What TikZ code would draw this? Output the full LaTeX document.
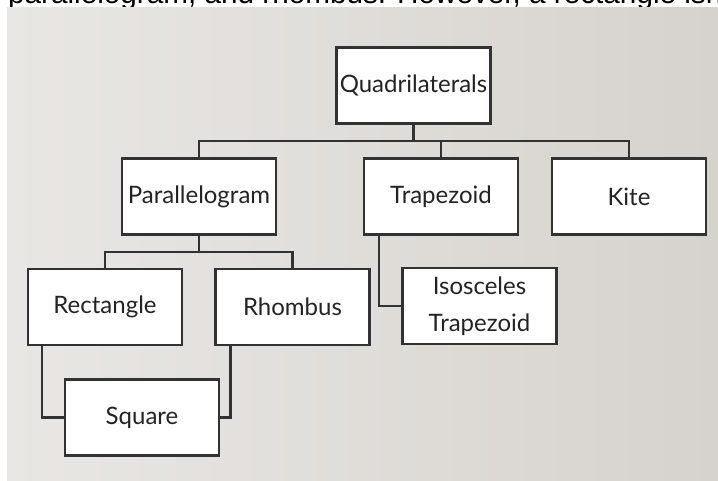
\documentclass[tikz,border=0pt]{standalone}
\usepackage{fontspec}
\setmainfont{Lato}
\newfontfamily\captionfont{Liberation Sans}
\usetikzlibrary{positioning, calc}
\definecolor{bgleft}{RGB}{233,231,228}
\definecolor{bgright}{RGB}{214,211,206}
\definecolor{linegray}{RGB}{50,50,50}
\definecolor{textgray}{RGB}{35,35,35}

\begin{document}
\begin{tikzpicture}[x=1pt, y=-1pt,
    quadbox/.style={draw=linegray, line width=2.2pt, fill=white, minimum width=154pt,
        minimum height=76pt, inner sep=0pt, text=textgray, align=center,
        font=\fontsize{24}{37}\selectfont},
    link/.style={draw=linegray, line width=2.2pt}]
        \useasboundingbox (0,0) rectangle (718,481);
        \clip (0,0) rectangle (718,481);

        % cut-off line of text above the slide
        \node[anchor=base west, inner sep=0pt, font=\captionfont\fontsize{29.7}{34}\selectfont]
            (caption) at (8,4) {parallelogram, and rhombus. However, a rectangle isn't};
        \fill[left color=bgleft, right color=bgright] (7,8) rectangle (718,481);

        \node[quadbox] (quad) at (413.5,85.5) {Quadrilaterals};
        \node[quadbox] (para) at (199,196.5) {Parallelogram};
        \node[quadbox] (trap) at (441,196.5) {Trapezoid};
        \node[quadbox] (kite) at (629,196.5) {Kite};
        \node[quadbox] (rect) at (105,307) {Rectangle};
        \node[quadbox] (rhom) at (292.5,307) {Rhombus};
        \node[quadbox] (iso) at (479.5,306) {Isosceles\\Trapezoid};
        \node[quadbox] (sq) at (142,417.5) {Square};

        \coordinate (topbus) at (0,141);
        \coordinate (parabus) at (0,252);

        \draw[link] (quad.south) -- (quad.south |- topbus);
        \draw[link] (para.north) -- (para.north |- topbus) -- (kite.north |- topbus) -- (kite.north);
        \draw[link] (trap.north) -- (trap.north |- topbus);
        \draw[link] (para.south) -- (para.south |- parabus);
        \draw[link] (rect.north) -- (rect.north |- parabus) -- (rhom.north |- parabus) -- (rhom.north);
        \draw[link] ([xshift=16pt]trap.south west) |- (iso.west);
        \draw[link] ([xshift=15pt]rect.south west) |- (sq.west);
        \draw[link] ([xshift=16pt]rhom.south west) |- (sq.east);
    \end{tikzpicture}
\end{document}
